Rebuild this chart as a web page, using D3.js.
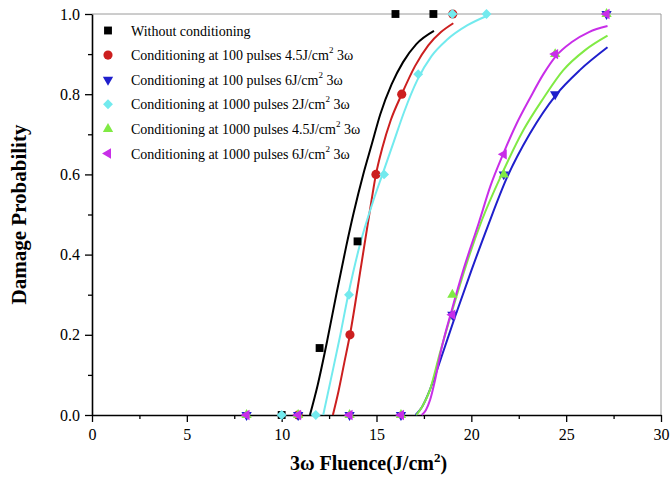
<!DOCTYPE html>
<html>
<head>
<meta charset="utf-8">
<script src="https://cdn.jsdelivr.net/npm/d3@7"></script>
<style>
  html, body { margin: 0; padding: 0; background: #fff; }
  svg { display: block; }
  text { font-family: "Liberation Serif", "Times New Roman", serif; fill: #000; }
</style>
</head>
<body>
<svg id="chart" width="671" height="478"></svg>
<script>
// Axis ticks
const fluenceTicks = [0, 5, 10, 15, 20, 25, 30];
const fluenceMinorTicks = [2.5, 7.5, 12.5, 17.5, 22.5, 27.5];
const probTicks = [0, 0.2, 0.4, 0.6, 0.8, 1.0];
const probMinorTicks = [0.1, 0.3, 0.5, 0.7, 0.9];

// Legend entries
const seriesLabels = [
  ["Without conditioning", "", ""],
  ["Conditioning at 100 pulses 4.5J/cm", "2", " 3\u03c9"],
  ["Conditioning at 100 pulses 6J/cm", "2", " 3\u03c9"],
  ["Conditioning at 1000 pulses 2J/cm", "2", " 3\u03c9"],
  ["Conditioning at 1000 pulses 4.5J/cm", "2", " 3\u03c9"],
  ["Conditioning at 1000 pulses 6J/cm", "2", " 3\u03c9"]
];

// Measured damage probability (fluence J/cm^2, probability)
const withoutFluence = [10, 12, 14, 16, 18];
const withoutProb    = [0, 0.167, 0.433, 1, 1];
const c100at45Fluence = [10.87, 13.6, 14.97, 16.33, 19.02];
const c100at45Prob    = [0, 0.2, 0.6, 0.8, 1];
const c100at6Fluence = [8.15, 10.87, 13.58, 16.29, 19.0, 21.71, 24.42, 27.13];
const c100at6Prob    = [0, 0, 0, 0, 0.25, 0.6, 0.8, 1];
const c1000at2Fluence = [10, 11.8, 13.55, 15.4, 17.2, 19.0, 20.8];
const c1000at2Prob    = [0, 0, 0.3, 0.6, 0.85, 1, 1];
const c1000at45Fluence = [8.15, 10.87, 13.58, 16.29, 19.0, 21.71, 24.42, 27.13];
const c1000at45Prob    = [0, 0, 0, 0, 0.3, 0.6, 0.9, 1];
const c1000at6Fluence = [8.15, 10.87, 13.58, 16.29, 19.0, 21.71, 24.42, 27.13];
const c1000at6Prob    = [0, 0, 0, 0, 0.25, 0.65, 0.9, 1];

// Fitted curves, sampled as [fluence, probability]
const withoutFit = [[11.49,0],[11.9,0.075],[12.4,0.185],[12.9,0.305],[13.4,0.42],[13.8,0.505],[14.3,0.6],[14.75,0.675],[15.2,0.75],[15.8,0.825],[16.4,0.88],[17.1,0.925],[18.03,0.958]];
const c100at45Fit = [[12.7,0],[13.0,0.06],[13.3,0.13],[13.6,0.2],[14.2,0.375],[14.74,0.536],[14.97,0.6],[15.3,0.665],[15.75,0.735],[16.33,0.8],[17.03,0.87],[17.73,0.922],[18.4,0.955],[19.05,0.977]];
const c100at6Fit = [[17.06,0],[17.4,0.02],[17.75,0.055],[18.1,0.1],[18.49,0.154],[19.14,0.245],[20.0,0.36],[20.9,0.475],[21.86,0.59],[23.09,0.702],[24.46,0.798],[25.72,0.86],[27.18,0.917]];
const c1000at2Fit = [[12.19,0],[12.6,0.09],[13.05,0.19],[13.51,0.3],[14.1,0.42],[14.8,0.53],[15.35,0.605],[15.9,0.68],[16.45,0.755],[17.15,0.835],[17.9,0.895],[18.7,0.935],[19.8,0.972],[20.81,0.995]];
const c1000at45Fit = [[17.1,0],[17.4,0.02],[17.8,0.06],[18.34,0.154],[18.96,0.255],[19.7,0.37],[20.55,0.485],[21.63,0.603],[22.74,0.71],[23.8,0.79],[24.85,0.86],[26.0,0.91],[27.18,0.946]];
const c1000at6Fit = [[17.38,0],[17.6,0.012],[17.82,0.037],[18.1,0.09],[18.4,0.16],[18.96,0.26],[19.6,0.365],[20.4,0.48],[21.0,0.57],[21.68,0.651],[22.39,0.727],[23.09,0.79],[23.8,0.85],[24.46,0.895],[25.3,0.93],[26.2,0.955],[27.18,0.97]];

const series = [
  { fluence: withoutFluence,   prob: withoutProb,   fit: withoutFit },
  { fluence: c100at45Fluence,  prob: c100at45Prob,  fit: c100at45Fit },
  { fluence: c100at6Fluence,   prob: c100at6Prob,   fit: c100at6Fit },
  { fluence: c1000at2Fluence,  prob: c1000at2Prob,  fit: c1000at2Fit },
  { fluence: c1000at45Fluence, prob: c1000at45Prob, fit: c1000at45Fit },
  { fluence: c1000at6Fluence,  prob: c1000at6Prob,  fit: c1000at6Fit }
];

// Styling per series
const colors = ["#000000", "#cc1f1f", "#1f1fcc", "#72eaee", "#80ea44", "#c82ee8"];
const symbols = [
  { type: d3.symbolSquare, size: 62, rotate: 0 },
  { type: d3.symbolCircle, size: 66, rotate: 0 },
  { type: d3.symbolTriangle, size: 46, rotate: 180 },
  { type: d3.symbolDiamond2, size: 62, rotate: 0 },
  { type: d3.symbolTriangle, size: 46, rotate: 0 },
  { type: d3.symbolTriangle, size: 46, rotate: -90 }
];

const svg = d3.select("#chart");
const plotLeft = 92, plotRight = 661, plotTop = 14, plotBottom = 415;

const x = d3.scaleLinear().domain([0, 30]).range([plotLeft, plotRight]);
const y = d3.scaleLinear().domain([0, 1]).range([plotBottom, plotTop]);

// Frame: light top and right borders
svg.append("line").attr("x1", plotLeft).attr("x2", plotRight).attr("y1", plotTop).attr("y2", plotTop)
  .attr("stroke", "#9a9a9a").attr("stroke-width", 1);
svg.append("line").attr("x1", plotRight).attr("x2", plotRight).attr("y1", plotTop).attr("y2", plotBottom)
  .attr("stroke", "#9a9a9a").attr("stroke-width", 1);

// Minor ticks
svg.append("g").attr("transform", `translate(0,${plotBottom})`)
  .call(d3.axisBottom(x).tickValues(fluenceMinorTicks).tickFormat("").tickSize(4).tickSizeOuter(0))
  .call(g => g.select(".domain").remove())
  .selectAll("line").attr("stroke-width", 1.3);
svg.append("g").attr("transform", `translate(${plotLeft},0)`)
  .call(d3.axisLeft(y).tickValues(probMinorTicks).tickFormat("").tickSize(4).tickSizeOuter(0))
  .call(g => g.select(".domain").remove())
  .selectAll("line").attr("stroke-width", 1.3);

// Major axes
const xAxis = svg.append("g").attr("transform", `translate(0,${plotBottom})`)
  .call(d3.axisBottom(x).tickValues(fluenceTicks).tickFormat(d3.format("d")).tickSize(7).tickPadding(7).tickSizeOuter(0));
const yAxis = svg.append("g").attr("transform", `translate(${plotLeft},0)`)
  .call(d3.axisLeft(y).tickValues(probTicks).tickFormat(d3.format(".1f")).tickSize(7).tickPadding(5).tickSizeOuter(0));
[xAxis, yAxis].forEach(g => {
  g.select(".domain").attr("stroke-width", 1.6);
  g.selectAll(".tick line").attr("stroke-width", 1.3);
  g.selectAll(".tick text").attr("font-family", "'Liberation Serif', serif").attr("font-size", 16);
});

// Fitted curves
const line = d3.line().x(d => x(d[0])).y(d => y(d[1])).curve(d3.curveMonotoneX);
series.forEach((s, i) => {
  svg.append("path").datum(s.fit)
    .attr("d", line)
    .attr("fill", "none")
    .attr("stroke", colors[i])
    .attr("stroke-width", 2);
});

// Measured points
function symbolPath(i) {
  return d3.symbol().type(symbols[i].type).size(symbols[i].size)();
}
series.forEach((s, i) => {
  const pts = s.fluence.map((f, k) => [f, s.prob[k]]);
  svg.append("g").selectAll("path").data(pts).join("path")
    .attr("d", symbolPath(i))
    .attr("transform", d => `translate(${x(d[0])},${y(d[1])}) rotate(${symbols[i].rotate})`)
    .attr("fill", colors[i]);
});

// Legend
const legend = svg.append("g");
seriesLabels.forEach((lab, i) => {
  const ly = 30.5 + i * 24.6;
  legend.append("path")
    .attr("d", symbolPath(i))
    .attr("transform", `translate(108,${ly}) rotate(${symbols[i].rotate})`)
    .attr("fill", colors[i]);
  const t = legend.append("text").attr("x", 131).attr("y", ly + 5).attr("font-size", 14);
  t.append("tspan").text(lab[0]);
  if (lab[1]) {
    t.append("tspan").attr("dy", -7).attr("font-size", 9).text(lab[1]);
    t.append("tspan").attr("dy", 7).text(lab[2]);
  }
});

// Axis titles
svg.append("text")
  .attr("transform", `translate(26,${(plotTop + plotBottom) / 2}) rotate(-90)`)
  .attr("text-anchor", "middle")
  .attr("font-weight", "bold").attr("font-size", 21)
  .text("Damage Probability");

const xt = svg.append("text")
  .attr("x", (plotLeft + plotRight) / 2 - 8).attr("y", 470)
  .attr("text-anchor", "middle")
  .attr("font-weight", "bold").attr("font-size", 20);
xt.append("tspan").text("3\u03c9 Fluence(J/cm");
xt.append("tspan").attr("dy", -8).attr("font-size", 13).text("2");
xt.append("tspan").attr("dy", 8).text(")");
</script>
</body>
</html>
